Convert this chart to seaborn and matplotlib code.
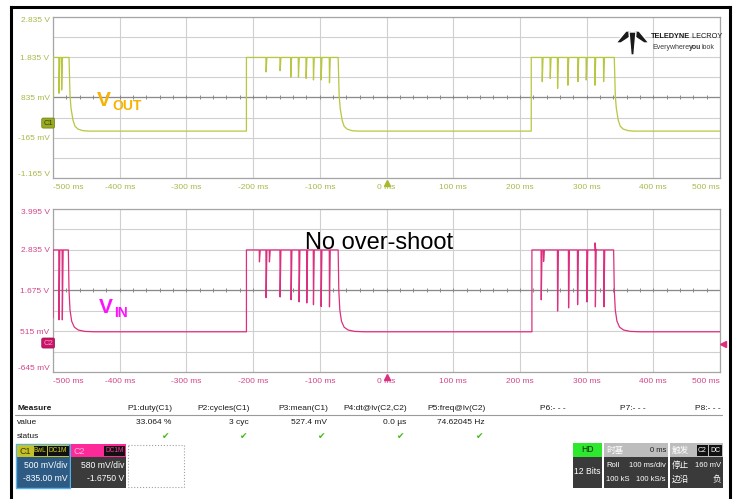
import numpy as np
import pandas as pd
import matplotlib
matplotlib.use('Agg')
import matplotlib.pyplot as plt
import seaborn as sns
from matplotlib import font_manager
from matplotlib.patches import Rectangle, Polygon

sns.set_style('white')
names = {f.name for f in font_manager.fontManager.ttflist}
NARROW = 'Liberation Sans Narrow' if 'Liberation Sans Narrow' in names else 'Liberation Sans'
SQ = 1.0 if NARROW.endswith('Narrow') else 0.86
plt.rcParams['font.family'] = [NARROW, 'DejaVu Sans']
CJK = ['Noto Sans CJK SC', 'DejaVu Sans']

# ---- data ----
x_ticks = [-500, -400, -300, -200, -100, 0, 100, 200, 300, 400, 500]
x_tick_labels = ['-500 ms', '-400 ms', '-300 ms', '-200 ms', '-100 ms', '0 ms',
                 '100 ms', '200 ms', '300 ms', '400 ms', '500 ms']

top_yticks = [2.835, 1.835, 0.835, -0.165, -1.165]
top_yminor = [2.335, 1.335, 0.335, -0.665]
top_ylabels = ['2.835 V', '1.835 V', '835 mV', '-165 mV', '-1.165 V']
bot_yticks = [3.995, 2.835, 1.675, 0.515, -0.645]
bot_yminor = [3.415, 2.255, 1.095, -0.065]
bot_ylabels = ['3.995 V', '2.835 V', '1.675 V', '515 mV', '-645 mV']

# VOUT (C1)
vout_start = 0.85
vout_high = 1.83
vout_low = 0.0
vout_rise = [-500, -210, 217]
vout_fall = [-476, -72.5, 341.5]
vout_dip_t = [-491, -487, -180.5, -159.5, -143.5, -132, -120.5, -109.5, -98, -85.5,
              233.5, 245.5, 256.5, 272, 287, 299.5, 312.5, 325.5]
vout_dip_v = [0.94, 1.02, 1.47, 1.50, 1.34, 1.34, 1.31, 1.27, 1.27, 1.20,
              1.23, 1.31, 1.06, 1.14, 1.23, 1.27, 1.14, 1.23]
vout_decay_dt = [0, 1.5, 3, 6, 9, 13.5, 21, 30]
vout_decay_v = [1.83, 0.90, 0.57, 0.27, 0.12, 0.05, 0.01, 0.0]

# VIN (C2)
vin_start = 0.90
vin_high = 2.83
vin_low = 0.50
vin_rise = [-500, -210, 218]
vin_fall = [-477, -72.5, 340.5]
vin_dip_t = [-491, -486, -190.5, -180.5, -175.5, -159.5, -143, -131, -119.5, -109.5, -98, -85.5,
             232, 235.5, 256.5, 273, 286.5, 300.5, 312.6, 313.2, 326]
vin_dip_v = [0.84, 0.84, 2.49, 1.47, 2.49, 1.49, 1.41, 1.35, 1.32, 1.27, 1.22, 1.21,
             1.41, 2.50, 1.09, 1.18, 1.27, 1.35, 3.03, 1.21, 1.21]
vin_decay_dt = [0, 1, 2.5, 5, 9, 15, 25, 40]
vin_decay_v = [2.83, 1.69, 1.12, 0.80, 0.63, 0.55, 0.51, 0.50]
trig_level = 0.16

meas_heads = ['P1:duty(C1)', 'P2:cycles(C1)', 'P3:mean(C1)', 'P4:dt@lv(C2,C2)',
              'P5:freq@lv(C2)', 'P6:- - -', 'P7:- - -', 'P8:- - -']
meas_values = ['33.064 %', '3 cyc', '527.4 mV', '0.0 µs', '74.62045 Hz', '', '', '']
meas_ok = [True, True, True, True, True, False, False, False]


def build_trace(start_v, high, low, rises, falls, dip_t, dip_v, decay_dt, decay_v):
    ts, vs = [], []
    level = start_v
    dips = sorted(zip(dip_t, dip_v))
    for r, f in zip(rises, falls):
        ts += [r, r]
        vs += [level, high]
        for d, dv in dips:
            if r < d < f:
                ts += [d - 0.3, d, d + 1.2]
                vs += [high, dv, high]
        ts += [f + d for d in decay_dt]
        vs += list(decay_v)
        level = low
    ts.append(500)
    vs.append(low)
    return pd.DataFrame({'t': ts, 'v': vs})


W, H = 739, 499
fig = plt.figure(figsize=(W / 100, H / 100), dpi=100)
fig.patch.set_facecolor('white')


def px_axes(x0, y0, x1, y1):
    return fig.add_axes([x0 / W, 1 - y1 / H, (x1 - x0) / W, (y1 - y0) / H])


C1_COL, C1_TXT = '#b9c63e', '#aab84a'
C2_COL, C2_TXT = '#dc2f7e', '#d2468a'


def setup(ax, yticks, yminor, ylabels, center, txtcol):
    ax.set_xlim(-500, 500)
    ax.set_ylim(yticks[-1], yticks[0])
    ax.set_xticks(x_ticks)
    ax.set_xticklabels(x_tick_labels)
    ax.set_yticks(yticks)
    ax.set_yticklabels(ylabels)
    ax.set_yticks(yminor, minor=True)
    ax.grid(True, which='both', color='#d0d0d0', lw=0.8)
    ax.tick_params(which='both', length=0, labelsize=7 * SQ, colors=txtcol)
    ax.tick_params(axis='y', pad=2.5)
    ax.tick_params(axis='x', pad=4.5)
    for s in ax.spines.values():
        s.set_color('#a5a5a5')
        s.set_linewidth(0.9)
    yl = ax.get_yticklabels()
    yl[0].set_va('top')
    yl[-1].set_va('bottom')
    xl = ax.get_xticklabels()
    xl[0].set_ha('left')
    xl[-1].set_ha('right')
    ax.axhline(center, color='#8a8a8a', lw=0.9, zorder=1)
    ax.plot(np.arange(-480, 500, 20), [center] * 49, ls='none', marker='|',
            ms=3, mew=0.7, color='#8a8a8a', zorder=1)


ax1 = px_axes(53, 17, 720, 178)
ax2 = px_axes(53, 209, 720, 372)
setup(ax1, top_yticks, top_yminor, top_ylabels, 0.835, C1_TXT)
setup(ax2, bot_yticks, bot_yminor, bot_ylabels, 1.675, C2_TXT)

vout = build_trace(vout_start, vout_high, vout_low, vout_rise, vout_fall,
                   vout_dip_t, vout_dip_v, vout_decay_dt, vout_decay_v)
vin = build_trace(vin_start, vin_high, vin_low, vin_rise, vin_fall,
                  vin_dip_t, vin_dip_v, vin_decay_dt, vin_decay_v)
sns.lineplot(data=vout, x='t', y='v', ax=ax1, color=C1_COL, lw=0.9,
             estimator=None, sort=False, legend=False, zorder=3)
sns.lineplot(data=vin, x='t', y='v', ax=ax2, color=C2_COL, lw=0.9,
             estimator=None, sort=False, legend=False, zorder=3)
for ax in (ax1, ax2):
    ax.set_xlabel('')
    ax.set_ylabel('')

# 0 ms trigger-time markers, ground markers, trigger level
ax1.plot([0], [-1.165 - 0.12], marker='^', ms=5, color='#a8b830', clip_on=False, zorder=6)
ax2.plot([0], [-0.645 - 0.14], marker='^', ms=5, color=C2_COL, clip_on=False, zorder=6)
ax2.plot([505], [trig_level], marker='<', ms=4, color=C2_COL, clip_on=False, zorder=6)
ax1.annotate('C1', xy=(0, 0.2), xycoords=ax1.get_yaxis_transform(), xytext=(-3.5, 0),
             textcoords='offset points', ha='center', va='center', fontsize=5.5,
             color='#3a4010', bbox=dict(boxstyle='round,pad=0.2', fc='#9aab22', ec='#6a7a10', lw=0.5))
ax2.annotate('C2', xy=(0, 0.18), xycoords=ax2.get_yaxis_transform(), xytext=(-3.5, 0),
             textcoords='offset points', ha='center', va='center', fontsize=5.5,
             color='#ff9cc8', bbox=dict(boxstyle='round,pad=0.2', fc='#c8156a', ec='#901050', lw=0.5))

# ---- overlay in pixel coordinates ----
ov = fig.add_axes([0, 0, 1, 1])
ov.set_xlim(0, W)
ov.set_ylim(H, 0)
ov.axis('off')
ov.patch.set_alpha(0)
renderer = fig.canvas.get_renderer()

ov.plot([11, 11], [499, 7], color='black', lw=2.2, solid_capstyle='projecting')
ov.plot([11, 730], [7, 7], color='black', lw=2.2, solid_capstyle='projecting')
ov.plot([730, 730], [7, 499], color='black', lw=2.2, solid_capstyle='projecting')

# labels on the traces
ov.text(97, 106, 'V', fontsize=15, fontweight='bold', color='#f6b400',
        family=['Liberation Sans'], va='baseline')
ov.text(112.5, 110, 'OUT', fontsize=10, fontweight='bold', color='#f6b400',
        family=['Liberation Sans'], va='baseline')
ov.text(99, 313, 'V', fontsize=15, fontweight='bold', color='#ff10ff',
        family=['Liberation Sans'], va='baseline')
ov.text(114, 317, 'IN', fontsize=10, fontweight='bold', color='#ff10ff',
        family=['Liberation Sans'], va='baseline')
ov.text(305, 243, 'No over-shoot', fontsize=17, color='black',
        family=['Liberation Sans'], va='center', ha='left')


def chain(x, y, parts, fs, col):
    # write text pieces one after another, each starting where the last ended
    for s, weight in parts:
        t = ov.text(x, y, s, fontsize=fs, fontweight=weight, color=col, va='center')
        bb = t.get_window_extent(renderer)
        x += bb.width


# logo
ov.add_patch(Polygon([(616, 43), (626, 31), (632, 31), (630, 37), (621, 43)], closed=True, fc='#1a1a1a'))
ov.add_patch(Polygon([(649, 43), (639, 31), (633, 31), (635, 37), (644, 43)], closed=True, fc='#1a1a1a'))
ov.add_patch(Polygon([(629, 32), (636, 32), (634, 55), (631, 55)], closed=True, fc='#1a1a1a'))
chain(651, 36, [('TELEDYNE', 'bold'), (' LECROY', 'normal')], 5.3, '#1a1a1a')
chain(652, 47, [('Everywhere', 'normal'), ('you', 'bold'), ('look', 'normal')], 5.0, '#3a3a3a')

# measurement table
fs = 7 * SQ
ov.text(17, 408, 'Measure', fontsize=fs, fontweight='bold', color='#1a1a1a', va='center')
ov.text(17, 422, 'value', fontsize=fs, color='#1a1a1a', va='center')
ov.text(17, 436, 'status', fontsize=fs, color='#1a1a1a', va='center')
ov.plot([15, 722], [414.5, 414.5], color='#9a9a9a', lw=0.8)
col_right = [172, 250, 328, 407, 486, 566, 646, 721]
for xr, head, val, ok in zip(col_right, meas_heads, meas_values, meas_ok):
    ov.text(xr, 408, head, fontsize=fs, color='#1a1a1a', va='center', ha='right')
    if val:
        ov.text(xr - 1, 422, val, fontsize=fs, color='#1a1a1a', va='center', ha='right')
    if ok:
        ov.text(xr - 6, 437, '✔', fontsize=6.5, color='#44b81a', va='center', ha='center',
                family=['DejaVu Sans'])


def box(x0, y0, x1, y1, fc, ec='none', lw=0, ls='-'):
    ov.add_patch(Rectangle((x0, y0), x1 - x0, y1 - y0, fc=fc, ec=ec, lw=lw, ls=ls))


def txt(x, y, s, col, ha='left', fs=6.8, fam=None, weight='normal'):
    ov.text(x, y, s, fontsize=fs * (SQ if fam is None else 1), color=col, ha=ha, va='center',
            family=fam if fam else [NARROW, 'DejaVu Sans'], fontweight=weight)


# channel descriptors
box(16, 444, 70, 487.5, '#2d5b84', ec='#55b0ee', lw=1.0)
box(17, 445, 69, 457, '#c4c228')
txt(19, 451, 'C1', '#3a3a00', fs=7.5)
box(34, 446, 46.5, 456, '#111111')
txt(40.2, 451, 'BwL', '#d8d820', ha='center', fs=5.5)
box(47.5, 446, 68.5, 456, '#111111')
txt(58, 451, 'DC1M', '#d8d820', ha='center', fs=5.5)
txt(67.5, 465.5, '500 mV/div', 'white', ha='right', fs=7.2)
txt(67.5, 478.5, '-835.00 mV', 'white', ha='right', fs=7.2)

box(71, 444, 125.5, 487.5, '#3b3b3b')
box(71, 444, 125.5, 457, '#ff2a9a')
txt(73, 451, 'C2', '#ffb4da', fs=7.5)
box(104, 446, 124.5, 456, '#111111')
txt(114.2, 451, 'DC1M', '#ff3aa0', ha='center', fs=5.5)
txt(124.5, 465.5, '580 mV/div', 'white', ha='right', fs=7.2)
txt(124.5, 478.5, '-1.6750 V', 'white', ha='right', fs=7.2)

box(127.5, 445, 184, 487, 'none', ec='#a0a0a0', lw=0.8, ls=':')

# acquisition status
box(573, 443, 602, 488, '#3a3a3a')
box(573, 443, 602, 457, '#2ee82e')
txt(587.5, 450, 'HD', '#0d300d', ha='center', fs=7.2)
txt(587.5, 472, '12 Bits', 'white', ha='center', fs=7.2)

bfs = 6.4
box(604, 443, 668, 488, '#3a3a3a')
box(604, 443, 668, 457, '#bdbdbd')
txt(606, 450, '时基', 'white', fs=6.2, fam=CJK)
txt(666, 450, '0 ms', '#222222', ha='right', fs=bfs)
txt(606, 465.5, 'Roll', 'white', fs=bfs)
txt(666, 465.5, '100 ms/div', 'white', ha='right', fs=bfs)
txt(606, 479.5, '100 kS', 'white', fs=bfs)
txt(666, 479.5, '100 kS/s', 'white', ha='right', fs=bfs)

box(670, 443, 723, 488, '#3a3a3a')
box(670, 443, 723, 457, '#bdbdbd')
txt(672, 450, '触发', 'white', fs=6.2, fam=CJK)
box(697, 445, 708, 455.5, '#111111')
txt(702.5, 450, 'C2', 'white', ha='center', fs=5.8)
box(709, 445, 722, 455.5, '#111111')
txt(715.5, 450, 'DC', 'white', ha='center', fs=5.8)
txt(672, 465.5, '停止', 'white', fs=6.2, fam=CJK)
txt(721, 465.5, '160 mV', 'white', ha='right', fs=bfs)
txt(672, 479.5, '边沿', 'white', fs=6.2, fam=CJK)
txt(721, 479.5, '负', 'white', ha='right', fs=6.2, fam=CJK)

fig.savefig('out.png', dpi=100)
